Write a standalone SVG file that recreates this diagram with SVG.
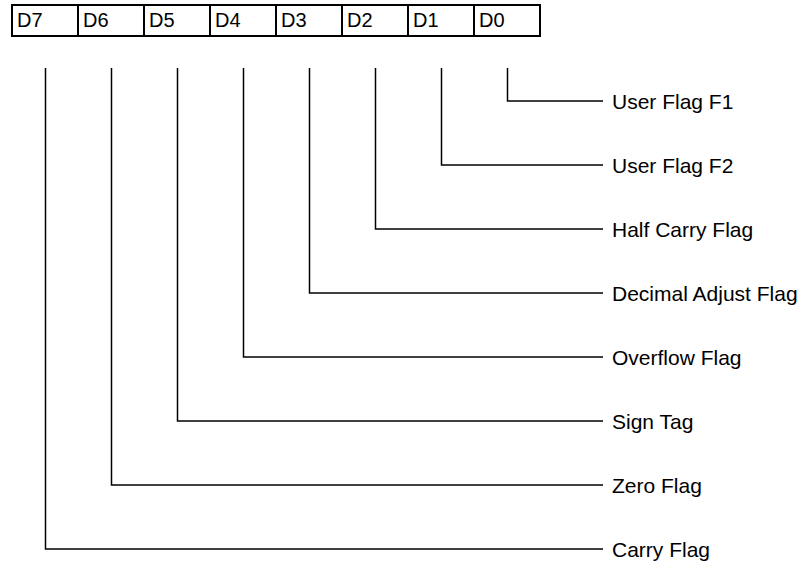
<svg xmlns="http://www.w3.org/2000/svg" width="803" height="567" viewBox="0 0 803 567">
<style>
.cell{fill:#fff;stroke:#000;stroke-width:2}
.lbl{font-family:"Liberation Sans",Arial,sans-serif;font-size:20px;fill:#000}
.flag{font-family:"Liberation Sans",Arial,sans-serif;font-size:21px;fill:#000}
.con{fill:none;stroke:#000;stroke-width:1.5}
</style>
<rect width="803" height="567" fill="#fff"/>
<g id="register">
<g id="D7"><rect class="cell" x="12" y="5" width="66" height="31"/><text class="lbl" x="17" y="27">D7</text></g>
<g id="D6"><rect class="cell" x="78" y="5" width="66" height="31"/><text class="lbl" x="83" y="27">D6</text></g>
<g id="D5"><rect class="cell" x="144" y="5" width="66" height="31"/><text class="lbl" x="149" y="27">D5</text></g>
<g id="D4"><rect class="cell" x="210" y="5" width="66" height="31"/><text class="lbl" x="215" y="27">D4</text></g>
<g id="D3"><rect class="cell" x="276" y="5" width="66" height="31"/><text class="lbl" x="281" y="27">D3</text></g>
<g id="D2"><rect class="cell" x="342" y="5" width="66" height="31"/><text class="lbl" x="347" y="27">D2</text></g>
<g id="D1"><rect class="cell" x="408" y="5" width="66" height="31"/><text class="lbl" x="413" y="27">D1</text></g>
<g id="D0"><rect class="cell" x="474" y="5" width="66" height="31"/><text class="lbl" x="479" y="27">D0</text></g>
</g>
<g id="connectors">
<polyline class="con" points="507.5,68 507.5,101 603,101"/>
<polyline class="con" points="441.5,68 441.5,165 603,165"/>
<polyline class="con" points="375.5,68 375.5,229 603,229"/>
<polyline class="con" points="309.5,68 309.5,293 603,293"/>
<polyline class="con" points="243.5,68 243.5,357 603,357"/>
<polyline class="con" points="177.5,68 177.5,421 603,421"/>
<polyline class="con" points="111.5,68 111.5,485 603,485"/>
<polyline class="con" points="45.5,68 45.5,549 603,549"/>
</g>
<g id="flag-F1"><text class="flag" x="612" y="108.5">User Flag F1</text></g>
<g id="flag-F2"><text class="flag" x="612" y="172.5">User Flag F2</text></g>
<g id="flag-HC"><text class="flag" x="612" y="236.5">Half Carry Flag</text></g>
<g id="flag-DA"><text class="flag" x="612" y="300.5">Decimal Adjust Flag</text></g>
<g id="flag-OV"><text class="flag" x="612" y="364.5">Overflow Flag</text></g>
<g id="flag-S"><text class="flag" x="612" y="428.5">Sign Tag</text></g>
<g id="flag-Z"><text class="flag" x="612" y="492.5">Zero Flag</text></g>
<g id="flag-C"><text class="flag" x="612" y="556.5">Carry Flag</text></g>
</svg>
